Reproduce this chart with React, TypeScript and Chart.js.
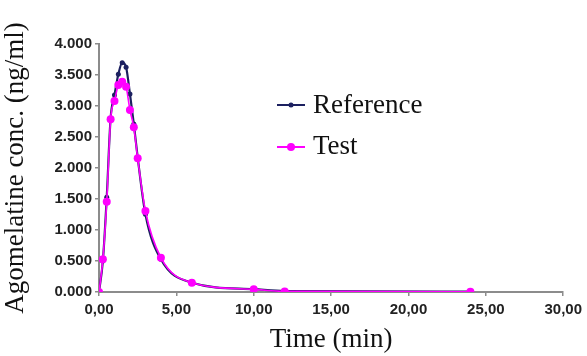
import React, { useEffect, useRef } from "react";
import { Chart, registerables } from "chart.js";

Chart.register(...registerables);

const times = [0, 0.25, 0.5, 0.75, 1, 1.25, 1.5, 1.75, 2, 2.25, 2.5, 3, 4, 6, 10, 12, 24];
const referenceValues = [0, 0.5, 1.527, 2.8, 3.177, 3.511, 3.699, 3.624, 3.194, 2.71, 2.17, 1.253, 0.527, 0.15, 0.045, 0.015, 0.005];
const testValues = [0, 0.527, 1.456, 2.785, 3.08, 3.339, 3.392, 3.312, 2.935, 2.656, 2.156, 1.306, 0.553, 0.15, 0.043, 0.01, 0.005];
const seriesNames = ["Reference", "Test"];
const xTitle = "Time (min)";
const yTitle = "Agomelatine conc. (ng/ml)";

const NAVY = "#1c2060";
const PINK = "#ff00ff";
const AXIS = "#8c8c8c";

const legendPlugin = {
  id: "customLegend",
  afterDraw(chart: any) {
    const ctx = chart.ctx;
    const items = [
      { name: seriesNames[0], color: NAVY, r: 2.5, y: 105, base: 113 },
      { name: seriesNames[1], color: PINK, r: 4, y: 147, base: 154 },
    ];
    ctx.save();
    for (const it of items) {
      ctx.strokeStyle = it.color;
      ctx.lineWidth = 2;
      ctx.beginPath();
      ctx.moveTo(277, it.y);
      ctx.lineTo(305, it.y);
      ctx.stroke();
      ctx.fillStyle = it.color;
      ctx.beginPath();
      ctx.arc(291, it.y, it.r, 0, Math.PI * 2);
      ctx.fill();
      ctx.fillStyle = "#111";
      ctx.font = '27px "Liberation Serif", "Times New Roman", serif';
      ctx.textBaseline = "alphabetic";
      ctx.textAlign = "left";
      ctx.fillText(it.name, 313, it.base);
    }
    ctx.restore();
  },
};

export default function App() {
  const ref = useRef<HTMLCanvasElement | null>(null);
  useEffect(() => {
    document.body.style.margin = "0";
    const canvas = ref.current!;
    const toXY = (vals: number[]) => times.map((t, i) => ({ x: t, y: vals[i] }));
    const chart = new Chart(canvas, {
      type: "line",
      data: {
        datasets: [
          {
            label: seriesNames[0],
            data: toXY(referenceValues),
            borderColor: NAVY,
            backgroundColor: NAVY,
            borderWidth: 2.2,
            pointRadius: 2.5,
            pointBorderWidth: 0,
            cubicInterpolationMode: "monotone",
            order: 1,
          },
          {
            label: seriesNames[1],
            data: toXY(testValues),
            borderColor: PINK,
            backgroundColor: PINK,
            borderWidth: 1.6,
            pointRadius: 4,
            pointBorderWidth: 0,
            cubicInterpolationMode: "monotone",
            order: 0,
          },
        ],
      },
      options: {
        responsive: false,
        animation: false,
        layout: { padding: { left: 0, top: 44, right: 23, bottom: 0 } },
        plugins: { legend: { display: false }, tooltip: { enabled: false } },
        scales: {
          x: {
            type: "linear",
            min: 0,
            max: 30,
            afterFit: (s: any) => {
              s.height = 64;
            },
            ticks: {
              stepSize: 5,
              padding: 5,
              color: "#222",
              font: { family: '"Liberation Sans", Arial, sans-serif', size: 15, weight: "bold" },
              callback: (v: any) => Number(v).toFixed(2).replace(".", ","),
              maxRotation: 0,
            },
            grid: { drawOnChartArea: false, drawTicks: true, tickLength: 4, color: AXIS, lineWidth: 1.5 },
            border: { display: true, color: AXIS, width: 2 },
            title: {
              display: true,
              text: xTitle,
              color: "#111",
              font: { family: '"Liberation Serif", "Times New Roman", serif', size: 27 },
              padding: { top: 4, bottom: 0 },
            },
          },
          y: {
            type: "linear",
            min: 0,
            max: 4,
            afterFit: (s: any) => {
              s.width = 99;
            },
            ticks: {
              stepSize: 0.5,
              padding: 3,
              color: "#222",
              font: { family: '"Liberation Sans", Arial, sans-serif', size: 15, weight: "bold" },
              callback: (v: any) => Number(v).toFixed(3),
            },
            grid: { drawOnChartArea: false, drawTicks: true, tickLength: 4, color: AXIS, lineWidth: 1.5 },
            border: { display: true, color: AXIS, width: 2 },
            title: {
              display: true,
              text: yTitle,
              color: "#111",
              font: { family: '"Liberation Serif", "Times New Roman", serif', size: 27 },
              padding: { top: 0, bottom: 0 },
            },
          },
        },
      },
      plugins: [legendPlugin],
    } as any);
    return () => chart.destroy();
  }, []);
  return <canvas ref={ref} width={587} height={356} style={{ display: "block" }} />;
}
